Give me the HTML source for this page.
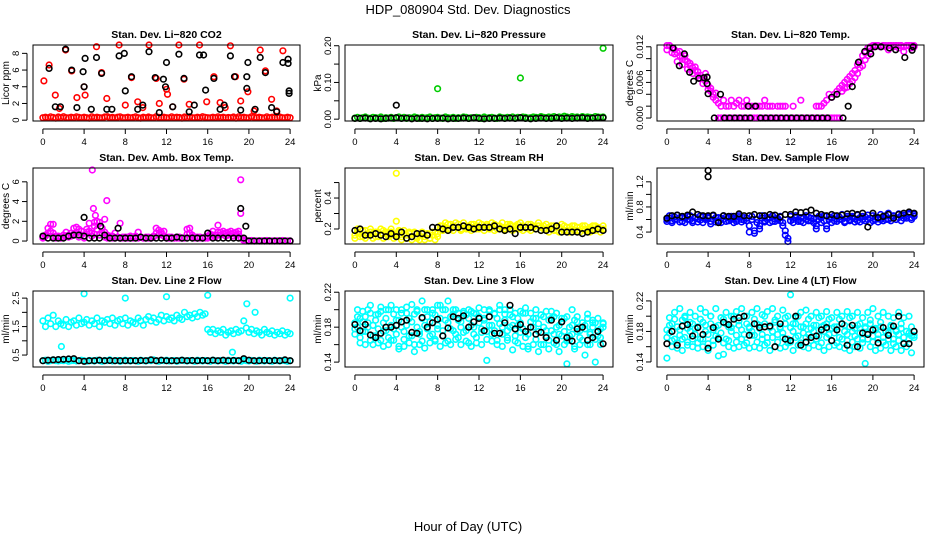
<!DOCTYPE html>
<html><head><meta charset="utf-8"><style>
body{margin:0;background:#fff;}
svg{display:block;font-family:"Liberation Sans",sans-serif;}
</style></head><body>
<svg id="chart" width="936" height="540" viewBox="0 0 936 540">
<text x="468" y="14" text-anchor="middle" font-size="13">HDP_080904  Std. Dev. Diagnostics</text>
<text x="468" y="531" text-anchor="middle" font-size="13">Hour of Day (UTC)</text>
</svg>
<script>
// ---- data arrays (dense series are sampled evenly across 0..24 h) ----
const xTicks=[0,4,8,12,16,20,24];
// Panel 1: CO2
const co2Band=[.3,.35,.28,.4,.32,.25,.38,.3,.42,.3,.27,.35,.3,.4,.33,.28,.36,.3,.25,.4,.3,.35,.3,.28,.38,.42,.3,.33,.27,.35,.4,.3,.3,.36,.28,.32,.4,.3,.25,.35,.3,.38,.3,.27,.42,.33,.3,.36,.3,.28,.4,.3,.35,.32,.25,.38,.3,.4,.3,.28,.35,.3,.42,.33,.3,.27,.36,.3,.4,.3,.35,.28,.32,.3,.38,.25,.4,.3,.35,.3,.28,.42,.33,.3,.36,.3,.27,.4,.3,.35,.3,.32,.38,.3,.28,.35,.3];
const co2RedH=[0.1,0.6,1.2,1.6,2.2,2.8,3.3,4.0,4.1,5.2,5.7,6.2,7.4,8.0,8.6,9.2,9.7,10.3,11.0,11.3,12.0,12.1,12.6,13.2,13.7,14.2,15.2,15.9,16.6,17.2,17.7,18.2,18.7,19.2,19.9,20.5,21.1,21.6,22.2,22.7,23.3];
const co2RedV=[4.7,6.6,3.0,1.4,8.4,5.9,2.7,4.0,3.0,8.8,5.7,2.6,9.0,1.8,5.1,2.2,1.5,9.0,5.0,2.0,3.7,3.1,1.6,9.0,4.9,1.9,9.0,2.2,5.2,2.1,1.5,8.9,5.2,2.3,3.4,1.1,8.4,5.9,2.5,1.1,8.3];
const co2BlkH=[0.6,1.2,1.7,2.2,2.8,3.3,3.9,4.0,4.1,4.7,5.2,5.7,6.2,6.7,7.4,7.9,8.0,8.6,9.2,9.7,10.3,10.9,11.3,11.7,11.9,12.0,12.6,13.2,13.7,14.2,14.7,15.2,15.6,15.8,16.6,17.2,17.6,18.2,18.6,19.2,19.8,19.8,19.9,20.6,21.1,21.6,22.2,22.7,23.3,23.8,23.8,23.9,23.9];
const co2BlkV=[6.2,1.6,1.6,8.5,6.0,1.5,5.8,4.0,7.4,1.3,7.5,5.6,1.3,1.3,7.7,8.0,3.5,5.2,1.3,1.8,8.2,5.1,0.9,4.9,4.0,6.9,1.6,7.9,5.0,1.0,1.8,7.8,7.8,3.6,5.0,1.3,1.8,7.7,5.2,1.2,5.2,3.8,6.9,1.3,7.5,5.7,1.5,1.0,6.9,7.3,6.8,3.5,3.2];
// Panel 2: pressure
const presBand=[.003,.005,.002,.004,.006,.003,.002,.005,.004,.003,.006,.002,.004,.003,.005,.002,.004,.006,.003,.005,.002,.004,.003,.006,.004,.002,.005,.003,.004,.006,.002,.004,.005,.003,.002,.006,.004,.003,.005,.002,.004,.003,.006,.005,.002,.004,.003,.005,.004,.002,.006,.003,.004,.005,.003,.002,.006,.004,.003,.005,.004,.006,.003,.005,.004,.006,.005,.003,.004,.006,.005,.004,.007,.005,.004,.006,.005,.007,.004,.006,.005,.008,.006,.004,.007,.005,.006,.004,.007,.005,.006,.005,.004,.007,.006,.005,.006];
const presOutH=[8.0,16.0,24.0];
const presOutV=[0.083,0.112,0.193];
const presBlk=[.002,.002,.003,.001,.002,.001,.002,.003,.004,.002,.003,.001,.002,.002,.001,.002,.002,.003,.001,.002,.002,.003,.002,.004,.002,.001,.002,.002,.003,.002,.003,.002,.004,.002,.001,.002,.003,.002,.002,.004,.002,.003,.002,.003,.004,.002,.003,.004,.004];
const presBlkOutH=[4.0];
const presBlkOutV=[0.038];
// Panel 3: Li-820 temp
const tempMain=[.0122,.0122,.0118,.0115,.011,.0105,.0102,.0098,.0095,.0088,.0085,.008,.0078,.0072,.0068,.0062,.0055,.0045,.0035,.003,.0025,.002,.003,.002,.002,.003,.002,.0025,.003,.002,.002,.003,.002,.002,.002,.002,.002,.002,.003,.002,.002,.002,null,.002,.002,.002,.002,null,null,.002,null,null,.003,null,null,null,null,null,.002,.002,.002,.0025,.003,.004,.0035,.004,.0045,.005,.0055,.006,.0065,.007,.0075,.008,.009,.0095,.0105,.011,.0118,.012,.0122,.0122,.0122,.012,.0122,.012,.0122,.0122,.012,.0122,.0118,.0122,.012,.0122,.0122,.0118,.012];
const tempSecond=[.0115,.0122,.011,.0108,.0095,.0112,.009,.0105,.0082,.0092,.0075,.0086,.0072,.0066,.0058,.0075,.0048,.005,.004,.0042,0,0,0,0,0,0,0,0,0,0,0,0,0,0,0,0,0,0,0,0,0,0,0,0,0,0,0,0,0,0,0,0,0,0,0,0,0,0,0,0,0,0,0,0,0,0,0,0,.0045,.005,.0052,.0058,.0062,.0068,.0075,.0085,.0088,.0098,.0105,.0112,.0122,.0122,.0122,.012,.0122,.0122,.0115,.0122,.0122,.0122,.0122,.0122,.0112,.0122,.0122,.0122,.0122];
const tempBlkH=[0.6,1.2,1.7,2.2,2.6,3.1,3.6,3.9,3.9,4.0,4.6,5.2,5.6,6.1,6.6,7.1,7.6,7.9,8.1,8.6,9.1,9.6,10.1,10.6,11.1,11.6,12.1,12.6,13.1,13.6,14.1,14.6,15.1,15.6,16.0,16.5,17.1,17.6,18.0,18.6,19.2,19.7,19.8,20.2,20.8,21.6,22.2,23.1,23.8,23.9];
const tempBlkV=[.0118,.0088,.0108,.0077,.0062,.0067,.0068,.0058,.0069,.0041,0,.004,0,0,0,0,0,.002,0,.002,0,0,0,0,0,0,0,0,0,0,0,0,0,0,.0035,.004,0,.002,.0053,.0094,.0112,.0118,.0108,.012,.012,.0118,.0115,.0102,.0114,.012];
// Panel 4: amb box temp
const ambMain=[.4,.5,1.3,1.7,.8,.5,.4,.3,.6,.9,.4,.5,1.3,1.4,1.2,1.0,.5,1.2,1.8,.8,1.5,2.0,1.9,1.3,.9,.6,.4,.5,.8,.4,.3,.3,.4,.3,.5,.3,.4,.9,.4,.3,.3,.4,.3,.5,1.3,1.1,.9,1.0,.4,.3,.4,.3,.3,.4,.3,.3,1.2,1.3,.6,.4,.3,.4,.3,.3,.5,.7,1.0,.6,1.6,.9,1.0,.8,.9,1.0,.8,.9,1.0,.3,.1,.05,0,.05,0,.02,0,.03,0,.05,0,.02,0,.03,0,.05,0,.02,0];
const ambSecond=[.3,.6,.8,1.0,.4,.3,.5,.3,.4,.5,.6,.8,.7,.9,.4,.6,.3,.9,1.0,.5,.7,1.2,.6,.8,.4,.3,.5,.3,.3,.4,.3,.4,.3,.4,.3,.3,.5,.3,.4,.3,.4,.3,.3,.4,.8,.6,.7,.5,.3,.4,.3,.3,.4,.3,.3,.3,.7,.8,.4,.3,.4,.3,.3,.4,.3,.4,.6,.4,.9,.6,.7,.5,.6,.7,.5,.6,.7,.3,.05,0,0,0,0,0,0,0,0,0,0,0,0,0,0,0,0,0,0];
const ambOutH=[1.0,4.8,4.9,5.1,5.0,6.0,6.2,7.5,19.2,19.2];
const ambOutV=[1.7,7.2,3.3,2.6,1.9,2.2,4.1,1.8,6.2,2.8];
const ambBlk=[.5,.3,.3,.3,.3,.5,.6,.6,.5,.3,.3,.3,.6,.3,.3,.3,.3,.3,.3,.4,.3,.3,.3,.3,.3,.3,.4,.3,.3,.3,.3,.3,.8,.3,.3,.3,.3,.3,.3,.3,0,0,0,0,0,0,0,0,0];
const ambBlkOutH=[4.0,5.6,7.3,19.2,19.7];
const ambBlkOutV=[2.4,1.5,1.3,3.3,1.5];
// Panel 5: gas stream RH
const rhMain=[.16,.18,.17,.15,.19,.16,.18,.17,.15,.18,.16,.19,.17,.15,.18,.16,.17,.19,.15,.17,.16,.18,.15,.17,.14,.16,.18,.15,.17,.14,.16,.18,.15,.2,.22,.21,.23,.2,.22,.21,.23,.2,.22,.21,.2,.23,.21,.22,.2,.23,.21,.22,.2,.21,.23,.2,.22,.21,.2,.23,.22,.2,.21,.23,.2,.22,.21,.2,.23,.21,.2,.22,.21,.2,.23,.21,.2,.22,.19,.21,.2,.22,.19,.21,.2,.22,.19,.21,.2,.22,.19,.21,.2,.22,.21,.2,.22];
const rhSecond=[.14,.2,.15,.19,.14,.17,.2,.14,.18,.15,.2,.14,.18,.16,.2,.14,.16,.18,.13,.19,.14,.17,.13,.18,.15,.13,.17,.13,.16,.14,.18,.13,.17,.22,.19,.24,.2,.23,.19,.24,.21,.19,.24,.2,.22,.19,.23,.2,.24,.21,.19,.23,.2,.24,.19,.22,.2,.24,.19,.21,.23,.19,.22,.2,.24,.19,.21,.23,.19,.22,.2,.24,.19,.22,.2,.18,.22,.19,.21,.18,.23,.19,.21,.18,.22,.19,.21,.18,.22,.19,.2,.18,.22,.19,.21,.18,.2];
const rhOutH=[4.0,4.0];
const rhOutV=[0.56,0.25];
const rhBlk=[.19,.2,.16,.16,.17,.16,.15,.17,.15,.18,.14,.15,.17,.17,.16,.21,.21,.2,.19,.21,.21,.22,.21,.2,.21,.21,.21,.22,.2,.19,.2,.17,.21,.21,.21,.2,.19,.19,.2,.22,.18,.18,.18,.18,.17,.18,.19,.2,.19];
// Panel 6: sample flow
const flowMain=[.6,.62,.58,.64,.6,.63,.57,.62,.65,.6,.58,.63,.61,.59,.64,.6,.62,.57,.6,.63,.58,.62,.6,.64,.58,.6,.62,.57,.63,.6,.59,.62,.4,.6,.38,.6,.45,.62,.58,.6,.63,.57,.61,.6,.58,.55,.35,.25,.58,.6,.63,.6,.57,.62,.6,.64,.58,.61,.45,.6,.63,.58,.45,.6,.62,.58,.61,.64,.6,.57,.62,.6,.65,.61,.58,.63,.6,.64,.6,.62,.58,.64,.61,.6,.63,.66,.6,.62,.65,.6,.63,.66,.62,.65,.68,.63,.65];
const flowSecond=[.57,.66,.55,.6,.67,.56,.63,.55,.6,.66,.55,.62,.56,.66,.55,.6,.64,.53,.66,.56,.63,.55,.66,.57,.62,.65,.55,.6,.66,.56,.63,.58,.5,.65,.42,.55,.5,.66,.56,.63,.55,.66,.57,.62,.65,.5,.42,.3,.65,.55,.66,.57,.63,.55,.66,.58,.62,.55,.5,.65,.55,.66,.5,.64,.55,.66,.57,.6,.68,.55,.65,.58,.63,.56,.67,.56,.65,.58,.67,.55,.66,.6,.56,.68,.58,.6,.7,.58,.66,.6,.69,.58,.67,.62,.7,.6,.68];
const flowBlk=[.62,.66,.67,.65,.67,.72,.68,.66,.66,.67,.55,.66,.65,.65,.69,.66,.66,.68,.66,.66,.68,.67,.64,.68,.68,.72,.71,.72,.75,.7,.68,.66,.68,.66,.67,.69,.7,.68,.7,.48,.7,.63,.65,.68,.62,.68,.7,.72,.7];
const flowBlkOutH=[4.0,4.0];
const flowBlkOutV=[1.38,1.28];
// Panel 7: line 2 flow
const l2Upper=[1.7,1.5,1.8,1.6,1.9,1.5,1.7,1.6,1.55,1.75,1.5,1.65,1.7,1.55,1.8,1.6,1.65,1.75,1.55,1.7,1.6,1.8,1.5,1.7,1.65,1.75,1.6,1.8,1.55,1.7,1.75,1.6,1.8,1.55,1.7,1.65,1.6,1.8,1.7,1.55,1.75,1.85,1.7,1.8,1.65,1.75,1.9,1.7,1.85,1.75,1.8,1.7,1.9,1.8,1.75,2.0,1.85,1.9,1.8,1.95,1.85,2.0,1.9,1.95,1.4,1.3,1.4,1.25,1.35,1.3,1.4,1.2,1.3,1.35,1.25,1.4,1.3,1.35,1.7,1.45,1.3,1.4,1.25,1.35,1.3,1.2,1.4,1.3,1.25,1.35,1.2,1.3,1.25,1.35,1.2,1.3,1.25];
const l2Lower=[.3,.32,.28,.3,.33,.3,.29,.31,.3,.32,.28,.3,.31,.29,.3,.32,.3,.28,.31,.3,.29,.32,.3,.28,.31,.3,.33,.29,.3,.31,.28,.3,.32,.3,.29,.31,.3,.28,.32,.3,.29,.31,.3,.33,.3,.28,.31,.3,.32,.29,.3,.31,.28,.3,.32,.3,.29,.31,.3,.28,.32,.3,.29,.31,.3,.28,.32,.3,.29,.31,.3,.28,.32,.3,.29,.31,.3,.28,.32,.3,.29,.31,.3,.28,.32,.3,.29,.31,.3,.28,.32,.3,.29,.31,.3,.28,.3];
const l2OutH=[1.8,4.0,8.0,12.0,16.0,18.4,19.8,20.6,24.0];
const l2OutV=[0.8,2.65,2.5,2.55,2.6,0.6,2.3,2.0,2.5];
const l2Blk=[.3,.32,.33,.34,.35,.36,.37,.3,.28,.3,.3,.32,.3,.31,.3,.3,.3,.3,.3,.31,.3,.33,.3,.32,.3,.3,.3,.32,.3,.31,.3,.31,.3,.32,.3,.32,.3,.31,.3,.37,.32,.3,.3,.31,.3,.31,.3,.33,.3];
// Panel 8: line 3 flow
const l3A=[.185,.18,.19,.175,.192,.18,.196,.17,.188,.178,.198,.175,.19,.168,.182,.195,.172,.188,.2,.175,.182,.19,.17,.195,.18,.175,.19,.2,.178,.186,.172,.194,.182,.19,.176,.2,.185,.178,.195,.172,.188,.18,.196,.176,.19,.182,.172,.195,.185,.178,.19,.175,.198,.182,.176,.19,.2,.18,.188,.176,.194,.182,.17,.19,.185,.178,.196,.172,.186,.18,.19,.175,.194,.18,.17,.188,.176,.192,.18,.172,.186,.175,.192,.17,.182,.188,.175,.168,.185,.178,.19,.172,.18,.185,.17,.178,.18];
const l3B=[.172,.192,.168,.186,.175,.2,.165,.182,.17,.195,.165,.185,.176,.2,.165,.178,.188,.158,.18,.166,.196,.17,.186,.16,.2,.172,.164,.182,.192,.17,.2,.166,.178,.205,.17,.188,.164,.192,.176,.2,.168,.186,.174,.194,.162,.198,.18,.168,.192,.174,.2,.166,.182,.172,.195,.165,.184,.172,.2,.168,.18,.192,.164,.182,.174,.196,.168,.158,.18,.19,.166,.184,.16,.192,.176,.165,.198,.172,.16,.182,.17,.19,.164,.18,.172,.158,.186,.176,.165,.182,.16,.174,.188,.166,.176,.168,.184];
const l3C=[.178,.2,.162,.198,.16,.185,.205,.16,.194,.162,.203,.158,.2,.16,.205,.165,.2,.155,.196,.158,.203,.162,.206,.152,.198,.16,.21,.156,.2,.162,.196,.164,.205,.158,.2,.162,.21,.16,.2,.166,.196,.16,.198,.164,.2,.158,.196,.162,.202,.16,.188,.142,.2,.164,.196,.16,.205,.158,.195,.165,.2,.154,.196,.162,.198,.158,.202,.155,.196,.16,.2,.152,.194,.16,.198,.155,.19,.162,.196,.152,.19,.16,.138,.165,.2,.155,.192,.16,.185,.148,.195,.16,.185,.14,.19,.16,.185];
const l3Blk=[.183,.176,.183,.171,.168,.173,.18,.18,.182,.186,.188,.174,.173,.191,.18,.185,.189,.17,.179,.192,.19,.193,.18,.186,.19,.176,.192,.173,.173,.185,.205,.178,.183,.175,.18,.172,.174,.168,.188,.165,.186,.168,.164,.178,.18,.165,.168,.175,.161];
// Panel 9: line 4 (LT) flow
const l4A=[.182,.178,.19,.17,.186,.175,.195,.172,.184,.18,.19,.176,.186,.17,.192,.18,.176,.19,.182,.174,.188,.178,.196,.17,.186,.18,.19,.175,.194,.182,.176,.19,.186,.18,.175,.19,.184,.176,.19,.172,.186,.18,.192,.176,.184,.178,.19,.17,.185,.18,.19,.174,.186,.178,.19,.176,.184,.18,.188,.174,.186,.18,.19,.176,.184,.178,.186,.172,.19,.18,.176,.186,.18,.174,.188,.178,.17,.184,.178,.19,.174,.182,.176,.186,.172,.18,.178,.186,.17,.18,.176,.184,.172,.18,.178,.174,.18];
const l4B=[.172,.188,.168,.196,.165,.182,.17,.2,.166,.192,.17,.184,.165,.196,.17,.188,.164,.2,.168,.186,.172,.198,.165,.19,.168,.185,.2,.166,.188,.17,.2,.165,.184,.175,.196,.166,.188,.17,.2,.165,.185,.172,.195,.166,.186,.172,.198,.165,.166,.19,.172,.2,.165,.186,.172,.196,.168,.188,.17,.198,.165,.188,.172,.196,.168,.186,.165,.196,.17,.188,.168,.198,.166,.184,.17,.19,.165,.186,.17,.195,.166,.184,.17,.192,.166,.18,.17,.188,.164,.182,.168,.19,.165,.18,.17,.186,.172];
const l4C=[.145,.198,.16,.205,.158,.21,.155,.198,.162,.205,.16,.2,.158,.21,.16,.205,.155,.2,.162,.21,.148,.198,.15,.205,.16,.2,.158,.206,.16,.21,.162,.2,.158,.205,.16,.21,.158,.202,.162,.206,.155,.21,.16,.2,.158,.208,.16,.2,.228,.155,.198,.162,.205,.16,.208,.158,.2,.162,.205,.16,.2,.155,.206,.16,.198,.162,.205,.16,.2,.158,.206,.155,.2,.16,.205,.158,.198,.138,.205,.16,.21,.155,.2,.158,.205,.162,.2,.155,.198,.16,.205,.155,.198,.16,.2,.152,.175];
const l4Blk=[.164,.18,.162,.187,.189,.174,.185,.176,.158,.185,.17,.192,.189,.196,.198,.2,.175,.19,.185,.186,.187,.16,.19,.17,.168,.2,.162,.166,.172,.174,.182,.185,.168,.182,.19,.162,.188,.16,.178,.176,.182,.165,.185,.175,.187,.2,.164,.164,.18];

// ---- layout ----
const cols=[[33,300],[345,613],[657,924]];
const rows=[[45,121],[168,244],[291,367]];
const svg=document.getElementById('chart');
const NS='http://www.w3.org/2000/svg';
function mk(tag,attrs,parent){const e=document.createElementNS(NS,tag);for(const k in attrs)e.setAttribute(k,attrs[k]);(parent||svg).appendChild(e);return e;}
function evenHours(n){const h=[];for(let i=0;i<n;i++)h.push(i*24/(n-1));return h;}

const panels=[
 {t:'Stan. Dev. Li\u2212820 CO2',yl:'Licor ppm',c:0,r:0,lim:[-0.1,9.0],ticks:[0,2,4,6,8],labs:['0','2','4','6','8'],
  ser:[[null,co2Band,'#ff0000'],[co2RedH,co2RedV,'#ff0000'],[co2BlkH,co2BlkV,'#000']]},
 {t:'Stan. Dev. Li\u2212820 Pressure',yl:'kPa',c:1,r:0,lim:[-0.005,0.202],ticks:[0,0.05,0.1,0.15,0.2],labs:['0.00','','0.10','','0.20'],
  ser:[[null,presBand,'#00cc00'],[presOutH,presOutV,'#00cc00'],[null,presBlk,'#000'],[presBlkOutH,presBlkOutV,'#000']]},
 {t:'Stan. Dev. Li\u2212820 Temp.',yl:'degrees C',c:2,r:0,lim:[-0.0005,0.0123],ticks:[0,0.002,0.004,0.006,0.008,0.01,0.012],labs:['0.000','','','0.006','','','0.012'],
  ser:[[null,tempMain,'#ff00ff'],[null,tempSecond,'#ff00ff'],[tempBlkH,tempBlkV,'#000']]},
 {t:'Stan. Dev. Amb. Box Temp.',yl:'degrees C',c:0,r:1,lim:[-0.3,7.4],ticks:[0,2,4,6],labs:['0','2','4','6'],
  ser:[[null,ambMain,'#ff00ff'],[null,ambSecond,'#ff00ff'],[ambOutH,ambOutV,'#ff00ff'],[null,ambBlk,'#000'],[ambBlkOutH,ambBlkOutV,'#000']]},
 {t:'Stan. Dev. Gas Stream RH',yl:'percent',c:1,r:1,lim:[0.103,0.594],ticks:[0.2,0.3,0.4,0.5],labs:['0.2','','0.4',''],
  ser:[[null,rhMain,'#ffff00'],[null,rhSecond,'#ffff00'],[rhOutH,rhOutV,'#ffff00'],[null,rhBlk,'#000']]},
 {t:'Stan. Dev. Sample Flow',yl:'ml/min',c:2,r:1,lim:[0.21,1.42],ticks:[0.4,0.6,0.8,1.0,1.2],labs:['0.4','','0.8','','1.2'],
  ser:[[null,flowMain,'#0000ff'],[null,flowSecond,'#0000ff'],[null,flowBlk,'#000'],[flowBlkOutH,flowBlkOutV,'#000']]},
 {t:'Stan. Dev. Line 2 Flow',yl:'ml/min',c:0,r:2,lim:[0.08,2.75],ticks:[0.5,1.0,1.5,2.0,2.5],labs:['0.5','','1.5','','2.5'],
  ser:[[null,l2Upper,'#00ffff'],[null,l2Lower,'#00ffff'],[l2OutH,l2OutV,'#00ffff'],[null,l2Blk,'#000']]},
 {t:'Stan. Dev. Line 3 Flow',yl:'ml/min',c:1,r:2,lim:[0.1344,0.2214],ticks:[0.14,0.16,0.18,0.2,0.22],labs:['0.14','','0.18','','0.22'],
  ser:[[null,l3A,'#00ffff'],[null,l3B,'#00ffff'],[null,l3C,'#00ffff'],[null,l3Blk,'#000']]},
 {t:'Stan. Dev. Line 4 (LT) Flow',yl:'ml/min',c:2,r:2,lim:[0.1334,0.233],ticks:[0.14,0.16,0.18,0.2,0.22],labs:['0.14','','0.18','','0.22'],
  ser:[[null,l4A,'#00ffff'],[null,l4B,'#00ffff'],[null,l4C,'#00ffff'],[null,l4Blk,'#000']]}
];

panels.forEach((p,pi)=>{
  const [x0,x1]=cols[p.c],[y0,y1]=rows[p.r];
  const g=mk('g',{});
  
  
  const xs=h=>x0+(x1-x0)*(h+0.96)/25.92;
  const ys=v=>y1-(y1-y0)*(v-p.lim[0])/(p.lim[1]-p.lim[0]);
  const cx=(x0+x1)/2;
  const tt=mk('text',{x:cx,y:y0-7,'text-anchor':'middle','font-size':'10.5','font-weight':'bold'},g);
  tt.textContent=p.t;
  
  
  const yt=mk('text',{x:0,y:0,'text-anchor':'middle','font-size':'10',transform:`translate(${x0-24},${(y0+y1)/2}) rotate(-90)`},g);
  yt.textContent=p.yl;
  
  
  const pg=mk('g',{fill:'none','stroke-width':'1.6'},g);
  
  
  p.ser.forEach(s=>{
    const vals=s[1],hrs=s[0]||evenHours(vals.length);
    vals.forEach((v,i)=>{
      if(v===null)return;
      const c=mk('circle',{cx:xs(hrs[i]).toFixed(1),cy:ys(v).toFixed(1),r:2.8,stroke:s[2]},pg);
      
      
    });
  });
  const box=mk('rect',{x:x0,y:y0,width:x1-x0,height:y1-y0,fill:'none',stroke:'#000','stroke-width':'1'},g);
  
  
  mk('line',{x1:xs(0),x2:xs(24),y1:y1+8,y2:y1+8,stroke:'#000'},g);
  xTicks.forEach(t=>{
    mk('line',{x1:xs(t),x2:xs(t),y1:y1+8,y2:y1+13,stroke:'#000'},g);
    const l=mk('text',{x:xs(t),y:y1+24,'text-anchor':'middle','font-size':'9.5'},g);
    l.textContent=t;
    
    
  });
  mk('line',{x1:x0-6,x2:x0-6,y1:ys(p.ticks[0]),y2:ys(p.ticks[p.ticks.length-1]),stroke:'#000'},g);
  p.ticks.forEach((t,i)=>{
    mk('line',{x1:x0-6,x2:x0-11,y1:ys(t),y2:ys(t),stroke:'#000'},g);
    if(p.labs[i]){
      const l=mk('text',{x:0,y:0,'text-anchor':'middle','font-size':'9.5',transform:`translate(${x0-14},${ys(t)}) rotate(-90)`},g);
      l.textContent=p.labs[i];
      
      
    }
  });
});
</script>
</body></html>
